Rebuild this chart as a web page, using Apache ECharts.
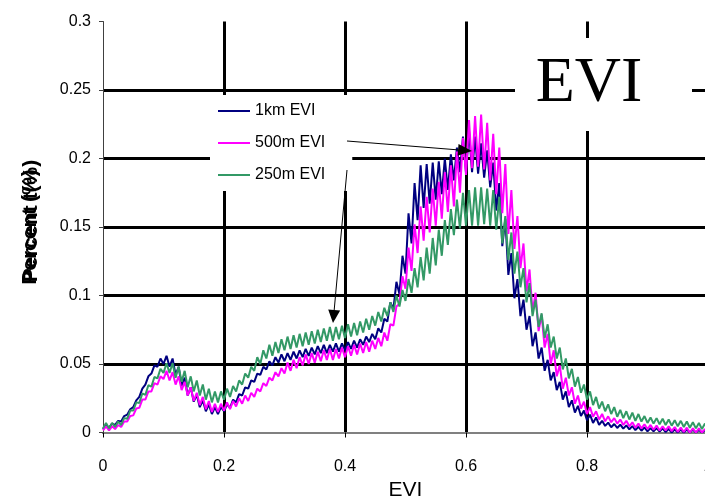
<!DOCTYPE html>
<html>
<head>
<meta charset="utf-8">
<script src="https://cdn.jsdelivr.net/npm/echarts@6/dist/echarts.min.js"></script>
<style>
  html, body { margin: 0; padding: 0; background: #fff; }
  #chart { width: 705px; height: 497px; }
</style>
</head>
<body>
<div id="chart"></div>
<script>
// EVI histogram sampled every 0.01; each bin has a low and a high reading
// (the product alternates between them, giving the saw-tooth band).
const seriesNames = ['1km EVI', '500m EVI', '250m EVI'];
const xTickLabels = ['0', '0.2', '0.4', '0.6', '0.8', '1'];
const yTickLabels = ['0', '0.05', '0.1', '0.15', '0.2', '0.25', '0.3'];

const km1Low = [.0025,.0035,.0055,.008,.013,.0185,.026,.035,.043,.048,
  .050,.048,.042,.034,.027,.0225,.0185,.0155,.0135,.0135,
  .0155,.018,.022,.027,.032,.037,.042,.046,.049,.051,
  .052,.053,.054,.055,.056,.057,.058,.058,.059,.059,
  .060,.061,.062,.064,.066,.068,.073,.081,.090,.101,
  .116,.138,.155,.164,.167,.170,.174,.177,.184,.190,
  .190,.190,.189,.186,.179,.162,.136,.115,.098,.085,
  .075,.063,.054,.045,.038,.031,.024,.0185,.0145,.012,
  .009,.007,.0055,.0048,.0038,.0033,.0028,.0023,.0018,.0013,
  .0008,.0008,.0006,.0003,0,0,0,0,0,0,0];
const km1High = [.0055,.0065,.0085,.012,.017,.0235,.032,.041,.049,.054,
  .056,.054,.048,.040,.033,.0275,.0235,.0205,.0185,.0185,
  .0205,.024,.028,.033,.038,.043,.048,.052,.055,.057,
  .058,.059,.060,.061,.062,.063,.064,.064,.065,.065,
  .066,.067,.068,.070,.072,.076,.083,.095,.110,.129,
  .160,.182,.195,.196,.197,.198,.200,.203,.208,.216,
  .220,.216,.211,.206,.197,.182,.156,.131,.112,.097,
  .085,.073,.062,.053,.044,.037,.030,.0235,.0195,.016,
  .013,.011,.0085,.0072,.0062,.0057,.0052,.0047,.0042,.0037,
  .0032,.0032,.003,.0027,.0024,.0022,.0022,.002,.0018,.0017,.0016];

const m500Low = [.0015,.0015,.0025,.004,.008,.0125,.018,.024,.030,.035,
  .039,.038,.035,.031,.027,.023,.020,.017,.015,.015,
  .016,.017,.019,.021,.023,.026,.030,.034,.038,.041,
  .043,.045,.047,.049,.050,.051,.052,.053,.053,.054,
  .055,.056,.057,.058,.059,.061,.063,.067,.078,.094,
  .105,.118,.131,.140,.146,.151,.156,.161,.165,.175,
  .188,.193,.194,.192,.184,.174,.160,.145,.134,.120,
  .103,.088,.074,.062,.050,.041,.032,.027,.021,.0175,
  .0135,.0115,.0095,.0082,.0075,.0065,.0055,.0045,.0035,.003,
  .0025,.002,.0015,.0015,.001,.0005,.0005,0,0,0,0];
const m500High = [.0045,.0045,.0055,.008,.012,.0175,.024,.030,.036,.041,
  .045,.044,.041,.037,.033,.029,.026,.023,.021,.021,
  .022,.023,.025,.027,.029,.032,.036,.040,.044,.047,
  .051,.053,.055,.057,.058,.059,.060,.061,.061,.062,
  .063,.064,.065,.066,.067,.069,.073,.079,.092,.114,
  .135,.152,.165,.172,.178,.183,.190,.195,.205,.215,
  .228,.231,.232,.226,.218,.208,.196,.177,.158,.138,
  .119,.102,.086,.072,.060,.049,.040,.033,.027,.0225,
  .0185,.0155,.0135,.0118,.0105,.0095,.0085,.0075,.0065,.006,
  .0055,.005,.0045,.0045,.004,.0035,.0035,.003,.003,.0025,.0025];

const m250Low = [.003,.003,.004,.0055,.010,.016,.0215,.0275,.0335,.0395,
  .0435,.0435,.040,.037,.033,.030,.027,.024,.022,.022,
  .024,.026,.030,.035,.040,.045,.050,.054,.056,.058,
  .060,.061,.062,.063,.064,.065,.066,.067,.067,.068,
  .069,.070,.071,.073,.075,.078,.081,.085,.088,.092,
  .096,.102,.106,.111,.116,.122,.129,.137,.144,.149,
  .151,.151,.151,.152,.151,.148,.138,.126,.116,.106,
  .095,.085,.077,.069,.062,.054,.046,.0395,.0335,.029,
  .024,.020,.0175,.0155,.0135,.0115,.0105,.0095,.0085,.008,
  .007,.0065,.006,.0055,.005,.0045,.004,.0035,.003,.0025,.002];
const m250High = [.007,.007,.008,.0105,.016,.022,.0285,.0345,.0405,.0465,
  .0505,.0505,.048,.045,.041,.038,.035,.032,.030,.030,
  .032,.034,.038,.043,.048,.055,.060,.064,.066,.068,
  .070,.071,.072,.073,.074,.075,.076,.077,.077,.078,
  .079,.080,.081,.083,.085,.088,.091,.095,.100,.104,
  .112,.120,.128,.135,.142,.148,.155,.163,.170,.175,
  .177,.179,.179,.178,.177,.172,.158,.146,.132,.120,
  .109,.097,.087,.079,.070,.062,.054,.0465,.0405,.035,
  .030,.026,.0225,.0205,.0185,.0165,.0155,.0145,.0135,.012,
  .011,.0105,.010,.0095,.009,.0085,.008,.0075,.007,.0065,.006];

const eviStep = 0.01;

// interleave the low / high reading of every bin into one poly-line
function sawTooth(low, high) {
  const pts = [];
  for (let i = 0; i < low.length; i++) {
    const x = +(i * eviStep).toFixed(3);
    pts.push([x, low[i]]);
    if (i < low.length - 1) pts.push([+(x + eviStep / 2).toFixed(4), high[i]]);
  }
  return pts;
}

const colors = ['#000080', '#ff00ff', '#339966'];
const sans = "'Liberation Sans', Arial, sans-serif";

const chart = echarts.init(document.getElementById('chart'), null, { renderer: 'canvas' });

function arrow(x1, y1, x2, y2, headLen, headHalf) {
  const dx = x2 - x1, dy = y2 - y1, len = Math.hypot(dx, dy);
  const ux = dx / len, uy = dy / len;
  const bx = x2 - ux * headLen, by = y2 - uy * headLen;
  return [
    { type: 'line', z: 20, shape: { x1, y1, x2: bx, y2: by },
      style: { stroke: '#000', lineWidth: 1 } },
    { type: 'polygon', z: 20,
      shape: { points: [[x2, y2], [bx - uy * headHalf, by + ux * headHalf], [bx + uy * headHalf, by - ux * headHalf]] },
      style: { fill: '#000' } }
  ];
}

chart.setOption({
  animation: false,
  backgroundColor: '#fff',
  color: colors,
  grid: { left: 103, right: -3, top: 21.5, bottom: 64.5, outerBoundsMode: 'none', containLabel: false },
  legend: {
    data: seriesNames,
    orient: 'vertical',
    left: 210, top: 95,
    padding: [8, 27, 8, 8],
    itemGap: 16,
    itemWidth: 32, itemHeight: 2,
    icon: 'rect',
    selectedMode: false,
    backgroundColor: '#fff',
    textStyle: { fontFamily: sans, fontSize: 16, color: '#000' },
    z: 10
  },
  xAxis: [{
    type: 'value', min: 0, max: 1, interval: 0.2,
    name: 'EVI', nameLocation: 'middle', nameGap: 42,
    nameTextStyle: { fontFamily: sans, fontSize: 21, color: '#000' },
    axisLine: { show: true, onZero: false, lineStyle: { color: '#000', width: 1.5 } },
    axisTick: { show: true, length: 5, lineStyle: { color: '#000', width: 1 } },
    axisLabel: {
      margin: 26, fontFamily: sans, fontSize: 16, color: '#000',
      formatter: (v) => xTickLabels[Math.round(v / 0.2)]
    },
    splitLine: { show: true, showMinLine: false, showMaxLine: false, lineStyle: { color: '#000', width: 3 } }
  }, {
    type: 'value', min: 0, max: 1, position: 'top',
    axisLine: { show: true, lineStyle: { color: '#808080', width: 2 } },
    axisTick: { show: false }, axisLabel: { show: false }, splitLine: { show: false }
  }],
  yAxis: {
    type: 'value', min: 0, max: 0.3, interval: 0.05,
    name: 'Percent (%)', nameLocation: 'middle', nameGap: 62,
    nameTextStyle: { fontFamily: sans, fontSize: 21, fontWeight: 'bold', color: '#000' },
    axisLine: { show: true, lineStyle: { color: '#404040', width: 1 } },
    axisTick: { show: true, length: 4, lineStyle: { color: '#404040', width: 1 } },
    axisLabel: {
      margin: 12, fontFamily: sans, fontSize: 16, color: '#000',
      formatter: (v) => yTickLabels[Math.round(v / 0.05)]
    },
    splitLine: { show: true, showMinLine: false, showMaxLine: false, lineStyle: { color: '#000', width: 3 } }
  },
  series: [
    { name: seriesNames[0], type: 'line', data: sawTooth(km1Low, km1High) },
    { name: seriesNames[1], type: 'line', data: sawTooth(m500Low, m500High) },
    { name: seriesNames[2], type: 'line', data: sawTooth(m250Low, m250High) }
  ].map(s => Object.assign(s, {
    showSymbol: false, symbol: 'none', sampling: null, z: 3,
    lineStyle: { width: 2 }
  })),
  graphic: [
    { type: 'rect', z: 15, shape: { x: 515, y: 38, width: 177, height: 93 }, style: { fill: '#fff' } },
    { type: 'text', z: 16, x: 589, y: 84,
      style: { text: 'EVI', font: "64px 'Liberation Serif', 'Times New Roman', serif", fill: '#000',
               textAlign: 'center', textVerticalAlign: 'middle' } },
    { type: 'text', z: 16, x: 31, y: 221, rotation: Math.PI / 2,
      style: { text: 'Percent t(%)', font: "bold 21px 'Liberation Sans', Arial, sans-serif", fill: '#000',
               textAlign: 'center', textVerticalAlign: 'middle' } },
    ...arrow(347, 141, 472, 151, 14, 6),
    ...arrow(347, 170, 333, 323, 13, 6)
  ]
});
</script>
</body>
</html>
